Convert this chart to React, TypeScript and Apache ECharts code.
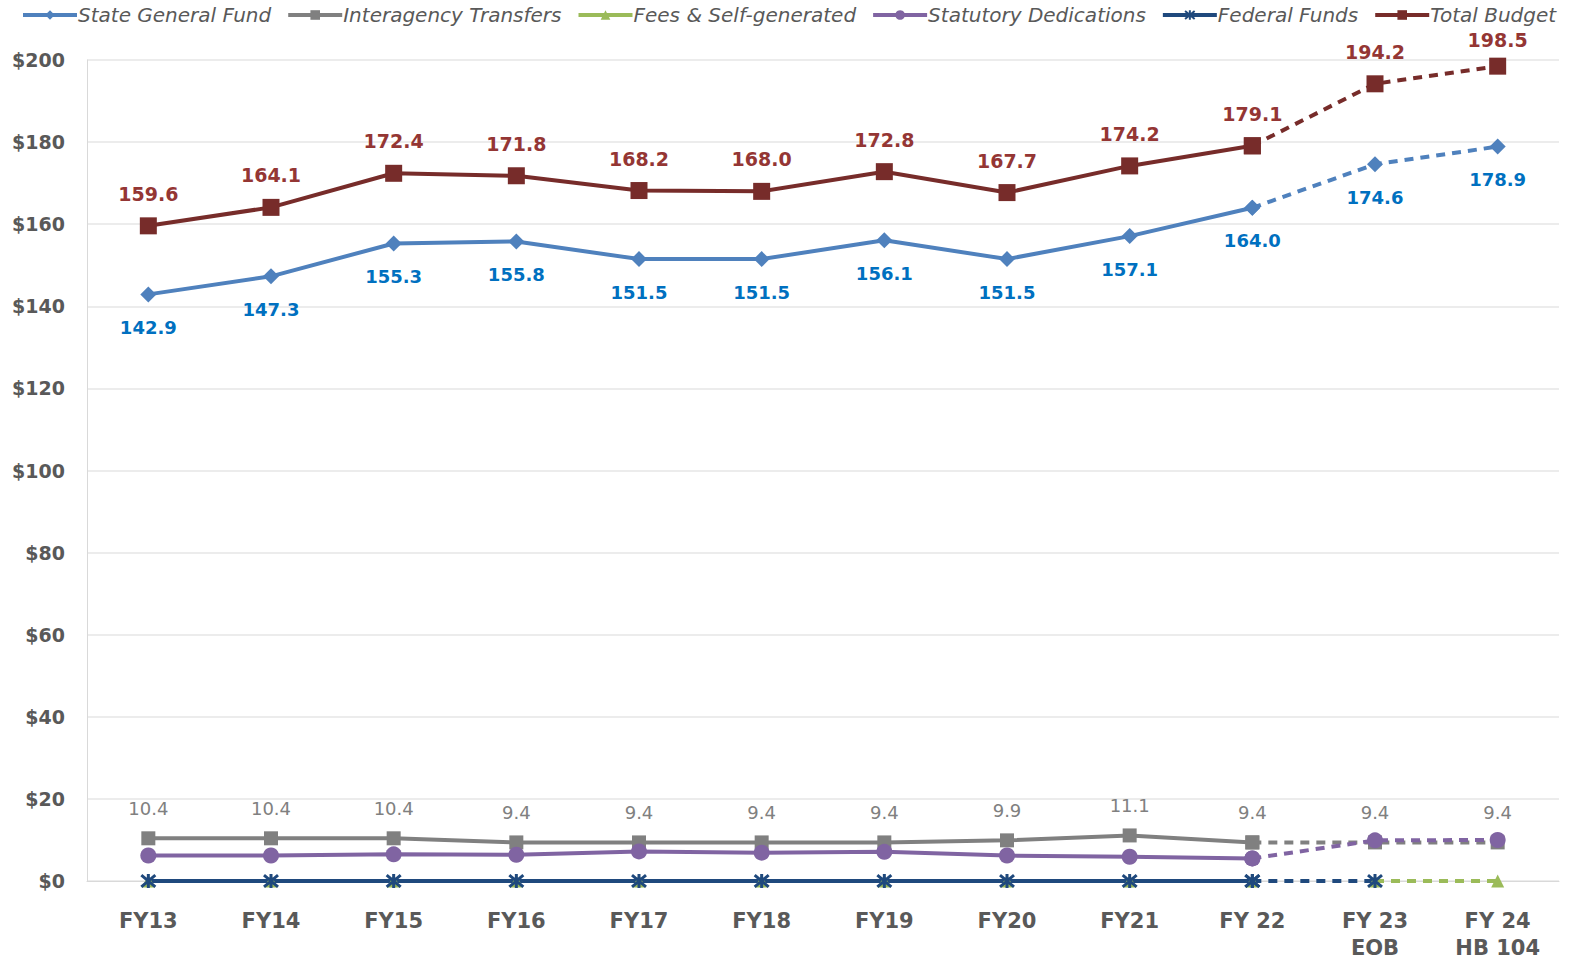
import React, { useEffect, useRef } from "react";
import * as echarts from "echarts";

const categories = ["FY13", "FY14", "FY15", "FY16", "FY17", "FY18", "FY19", "FY20", "FY21", "FY 22", "FY 23\nEOB", "FY 24\nHB 104"];
const stateGeneralFund = [142.9, 147.3, 155.3, 155.8, 151.5, 151.5, 156.1, 151.5, 157.1, 164.0, 174.6, 178.9];
const interagencyTransfers = [10.4, 10.4, 10.4, 9.4, 9.4, 9.4, 9.4, 9.9, 11.1, 9.4, 9.4, 9.4];
const feesSelfGenerated = [0, 0, 0, 0, 0, 0, 0, 0, 0, 0, 0, 0];
const statutoryDedications = [6.2, 6.2, 6.5, 6.4, 7.2, 6.9, 7.1, 6.2, 5.9, 5.5, 9.9, 10.0];
const federalFunds: (number | null)[] = [0, 0, 0, 0, 0, 0, 0, 0, 0, 0, 0, null];
const totalBudget = [159.6, 164.1, 172.4, 171.8, 168.2, 168.0, 172.8, 167.7, 174.2, 179.1, 194.2, 198.5];
const yTicks = [0, 20, 40, 60, 80, 100, 120, 140, 160, 180, 200];

const SPLIT = 9; // last actual index; dashed afterwards
const FONT = "'DejaVu Sans', sans-serif";

const asterisk = "path://M0,0L10,10M10,0L0,10M5,-1L5,11";

function solidPart(arr: (number | null)[]) {
  return arr.map((v, i) => (i <= SPLIT ? v : null));
}

const fmt = (p: any) => {
  const v = Array.isArray(p.value) ? p.value[1] : p.value;
  return typeof v === "number" ? v.toFixed(1) : "";
};

export default function App() {
  const ref = useRef<HTMLDivElement>(null);
  useEffect(() => {
    if (!ref.current) return;
    const chart = echarts.init(ref.current, undefined, { renderer: "svg" });

    const mk = (
      name: string,
      data: (number | null)[],
      color: string,
      symbol: string,
      symbolSize: number,
      label: any,
      dashedLabel: boolean,
      extraItem: any = {},
      dashStart = SPLIT,
      lastLabel: any = null
    ) => {
      const base = {
        type: "line",
        name,
        symbol,
        symbolSize,
        lineStyle: { color, width: 4 },
        itemStyle: { color, ...extraItem },
        emphasis: { disabled: true },
      };
      const solid = { ...base, data: solidPart(data), label, z: 2 };
      const dashedData = data.map((v, i) => {
        if (i < dashStart || v === null) return null;
        const lbl: any = { show: dashedLabel && i > SPLIT };
        if (lastLabel && i === data.length - 1) Object.assign(lbl, lastLabel);
        return { value: v, label: lbl };
      });
      const dashed = {
        ...base,
        data: dashedData,
        lineStyle: { color, width: 4, type: [9, 7] },
        label,
        z: 2,
      };
      return [solid, dashed];
    };

    const sgfLabel = { show: true, position: "bottom", distance: 16, color: "#0070C0", fontFamily: FONT, fontWeight: "bold", fontSize: 18, formatter: fmt };
    const totLabel = { show: true, position: "top", distance: 14, color: "#943634", fontFamily: FONT, fontWeight: "bold", fontSize: 19, formatter: fmt };
    const iaLabel = { show: true, position: "top", distance: 14, color: "#808080", fontFamily: FONT, fontSize: 18, formatter: fmt };

    const series: any[] = [
      ...mk("State General Fund", stateGeneralFund, "#4F81BD", "diamond", 16, sgfLabel, true),
      ...mk("Interagency Transfers", interagencyTransfers, "#808080", "rect", 14, iaLabel, true),
      ...mk("Fees & Self-generated", feesSelfGenerated, "#9BBB59", "triangle", 13, { show: false }, false, {}, 10),
      ...mk("Statutory Dedications", statutoryDedications, "#8064A2", "circle", 16, { show: false }, false),
      ...mk("Federal Funds", federalFunds, "#1F497D", asterisk, 14, { show: false }, false, { borderColor: "#1F497D", borderWidth: 3 }),
      ...mk("Total Budget", totalBudget, "#772C2A", "rect", 17, totLabel, true, {}, SPLIT, { distance: 8 }),
    ];

    chart.setOption({
      animation: false,
      backgroundColor: "#ffffff",
      legend: {
        top: 0,
        left: 16,
        itemWidth: 54,
        itemHeight: 12,
        itemGap: 15,
        lineStyle: { width: 4 },
        data: ["State General Fund", "Interagency Transfers", "Fees & Self-generated", "Statutory Dedications", "Federal Funds", "Total Budget"],
        textStyle: { fontFamily: FONT, fontStyle: "italic", fontSize: 20, color: "#595959", padding: [0, 0, 0, -4] },
      },
      grid: { left: 87, right: 15, top: 60, bottom: 82, containLabel: false },
      xAxis: {
        type: "category",
        data: categories,
        boundaryGap: true,
        axisLine: { show: true, lineStyle: { color: "#D9D9D9", width: 1 } },
        axisTick: { show: false },
        axisLabel: { margin: 26, color: "#595959", fontFamily: FONT, fontWeight: "bold", fontSize: 21, lineHeight: 27, interval: 0 },
      },
      yAxis: {
        type: "value",
        min: 0,
        max: 200,
        interval: 20,
        axisLine: { show: true, lineStyle: { color: "#D9D9D9", width: 1 } },
        axisTick: { show: false },
        splitLine: { lineStyle: { color: "#E6E6E6", width: 1.5 } },
        axisLabel: {
          margin: 22,
          color: "#595959",
          fontFamily: FONT,
          fontWeight: "bold",
          fontSize: 19,
          formatter: (v: number) => (yTicks.includes(v) ? "$" + v : ""),
        },
      },
      series,
    });
    return () => chart.dispose();
  }, []);

  return <div ref={ref} style={{ width: 1574, height: 963, position: "absolute", left: 0, top: 0 }} />;
}
